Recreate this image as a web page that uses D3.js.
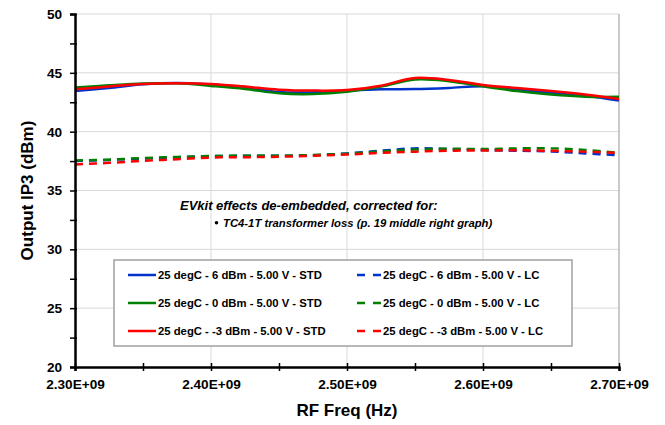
<!DOCTYPE html>
<html>
<head>
<meta charset="utf-8">
<script src="https://cdn.jsdelivr.net/npm/d3@7"></script>
<style>
  body { margin: 0; background: #fff; }
  svg { font-family: "Liberation Sans", Arial, sans-serif; font-weight: bold; }
</style>
</head>
<body>
<script>
// frequencies in Hz, one point every 25 MHz
var freqs = [2.300e9, 2.325e9, 2.350e9, 2.375e9, 2.400e9, 2.425e9, 2.450e9, 2.475e9, 2.500e9,
             2.525e9, 2.550e9, 2.575e9, 2.600e9, 2.625e9, 2.650e9, 2.675e9, 2.700e9];

// output IP3 (dBm)
var std6  = [43.45, 43.72, 44.03, 44.14, 44.00, 43.77, 43.37, 43.34, 43.49, 43.60, 43.62, 43.72, 43.86, 43.58, 43.30, 43.05, 42.64];
var lc6   = [37.50, 37.60, 37.72, 37.82, 37.92, 37.95, 37.95, 38.00, 38.15, 38.38, 38.58, 38.52, 38.44, 38.38, 38.32, 38.15, 38.00];
var std0  = [43.75, 43.94, 44.09, 44.11, 43.89, 43.63, 43.26, 43.20, 43.40, 43.83, 44.43, 44.29, 43.85, 43.45, 43.15, 42.97, 42.96];
var lc0   = [37.55, 37.62, 37.76, 37.85, 37.93, 37.95, 37.95, 38.02, 38.12, 38.32, 38.48, 38.55, 38.52, 38.58, 38.58, 38.45, 38.20];
var stdm3 = [43.60, 43.83, 44.06, 44.11, 44.06, 43.83, 43.57, 43.49, 43.54, 43.91, 44.57, 44.40, 43.97, 43.72, 43.45, 43.15, 42.78];
var lcm3  = [37.22, 37.35, 37.52, 37.65, 37.80, 37.83, 37.87, 37.95, 38.05, 38.20, 38.30, 38.38, 38.40, 38.42, 38.37, 38.30, 38.20];

var seriesNames = ["25 degC - 6 dBm - 5.00 V - STD", "25 degC - 6 dBm - 5.00 V - LC",
                   "25 degC - 0 dBm - 5.00 V - STD", "25 degC - 0 dBm - 5.00 V - LC",
                   "25 degC - -3 dBm - 5.00 V - STD", "25 degC - -3 dBm - 5.00 V - LC"];
var seriesValues = [std6, lc6, std0, lc0, stdm3, lcm3];

var xTicks = [2.3e9, 2.4e9, 2.5e9, 2.6e9, 2.7e9];
var xMinor = [2.35e9, 2.45e9, 2.55e9, 2.65e9];
var yTicks = [20, 25, 30, 35, 40, 45, 50];
var yMinor = [22.5, 27.5, 32.5, 37.5, 42.5, 47.5];

var notes = ["EVkit effects de-embedded, corrected for:", "TC4-1T transformer loss (p. 19 middle right graph)"];

var colors = ["#0033cc", "#0033cc", "#008000", "#008000", "#ff0000", "#ff0000"];

var width = 665, height = 425;
var pLeft = 75, pRight = 619, pTop = 14, pBottom = 367;

var svg = d3.select("body").append("svg").attr("width", width).attr("height", height);

var x = d3.scaleLinear().domain([2.3e9, 2.7e9]).range([pLeft, pRight]);
var y = d3.scaleLinear().domain([20, 50]).range([pBottom, pTop]);

// gridlines
svg.append("g").selectAll("line").data(yTicks.slice(1)).enter().append("line")
  .attr("x1", pLeft).attr("x2", pRight)
  .attr("y1", function(d) { return y(d); }).attr("y2", function(d) { return y(d); })
  .attr("stroke", "#d9d9d9").attr("stroke-width", 1);
svg.append("g").selectAll("line").data(xTicks.slice(1)).enter().append("line")
  .attr("x1", function(d) { return x(d); }).attr("x2", function(d) { return x(d); })
  .attr("y1", pTop).attr("y2", pBottom)
  .attr("stroke", function(d, i) { return i == 3 ? "#b8b8b8" : "#d9d9d9"; })
  .attr("stroke-width", function(d, i) { return i == 3 ? 1.5 : 1; });

// series lines
var line = d3.line()
  .x(function(d, i) { return x(freqs[i]); })
  .y(function(d) { return y(d); })
  .curve(d3.curveCatmullRom);

seriesValues.forEach(function(vals, k) {
  svg.append("path").datum(vals)
    .attr("d", line)
    .attr("fill", "none")
    .attr("stroke", colors[k])
    .attr("stroke-width", 2.5)
    .attr("stroke-dasharray", k % 2 == 1 ? "8,6" : null);
});

// axes
var fmt = function(d) { return (d / 1e9).toFixed(2) + "E+09"; };

var xAxis = svg.append("g").attr("transform", "translate(0," + pBottom + ")")
  .call(d3.axisBottom(x).tickValues(xTicks).tickFormat(fmt).tickSize(4).tickPadding(8));
var xAxisMinor = svg.append("g").attr("transform", "translate(0," + pBottom + ")")
  .call(d3.axisBottom(x).tickValues(xMinor).tickFormat("").tickSize(4));

var yAxis = svg.append("g").attr("transform", "translate(" + pLeft + ",0)")
  .call(d3.axisLeft(y).tickValues(yTicks).tickSize(5).tickPadding(8));
var yAxisMinor = svg.append("g").attr("transform", "translate(" + pLeft + ",0)")
  .call(d3.axisLeft(y).tickValues(yMinor).tickFormat("").tickSize(5));

svg.selectAll(".domain").attr("stroke", "#000").attr("stroke-width", 2);
svg.selectAll(".tick line").attr("stroke", "#000").attr("stroke-width", 1.5);
// ticks cross the axis line a bit
xAxis.selectAll(".tick line").attr("y1", -4);
xAxisMinor.selectAll(".tick line").attr("y1", -4);
yAxis.selectAll(".tick line").attr("x1", 2);
yAxisMinor.selectAll(".tick line").attr("x1", 2);
svg.selectAll(".tick text").attr("fill", "#000")
  .style("font-size", "13.6px").style("font-weight", "bold").style("font-family", "'Liberation Sans', Arial, sans-serif");

// axis titles
svg.append("text").attr("x", (pLeft + pRight) / 2).attr("y", 416)
  .attr("text-anchor", "middle").style("font-size", "17px").text("RF Freq (Hz)");
svg.append("text").attr("transform", "translate(33," + ((pTop + pBottom) / 2) + ") rotate(-90)")
  .attr("text-anchor", "middle").style("font-size", "17px").text("Output IP3 (dBm)");

// annotation
svg.append("text").attr("x", 180).attr("y", 210)
  .style("font-size", "13px").style("font-style", "italic").text(notes[0]);
svg.append("circle").attr("cx", 216.5).attr("cy", 222.8).attr("r", 1.8).attr("fill", "#000");
svg.append("text").attr("x", 223).attr("y", 226.8)
  .style("font-size", "11.3px").style("font-style", "italic").text(notes[1]);

// legend
var legend = svg.append("g");
legend.append("rect").attr("x", 114).attr("y", 260).attr("width", 458).attr("height", 86)
  .attr("fill", "#fff").attr("stroke", "#a0a0a0").attr("stroke-width", 1.5);

seriesNames.forEach(function(name, k) {
  var row = Math.floor(k / 2), col = k % 2;
  var ly = 275 + row * 28;
  var lx = col == 0 ? 128 : 357;
  var len = col == 0 ? 28 : 24;
  legend.append("line").attr("x1", lx).attr("x2", lx + len).attr("y1", ly).attr("y2", ly)
    .attr("stroke", colors[k]).attr("stroke-width", 2.5)
    .attr("stroke-dasharray", col == 1 ? "8,8" : null);
  legend.append("text").attr("x", lx + len + 2).attr("y", ly + 4)
    .style("font-size", "11.3px").text(name);
});
</script>
</body>
</html>
